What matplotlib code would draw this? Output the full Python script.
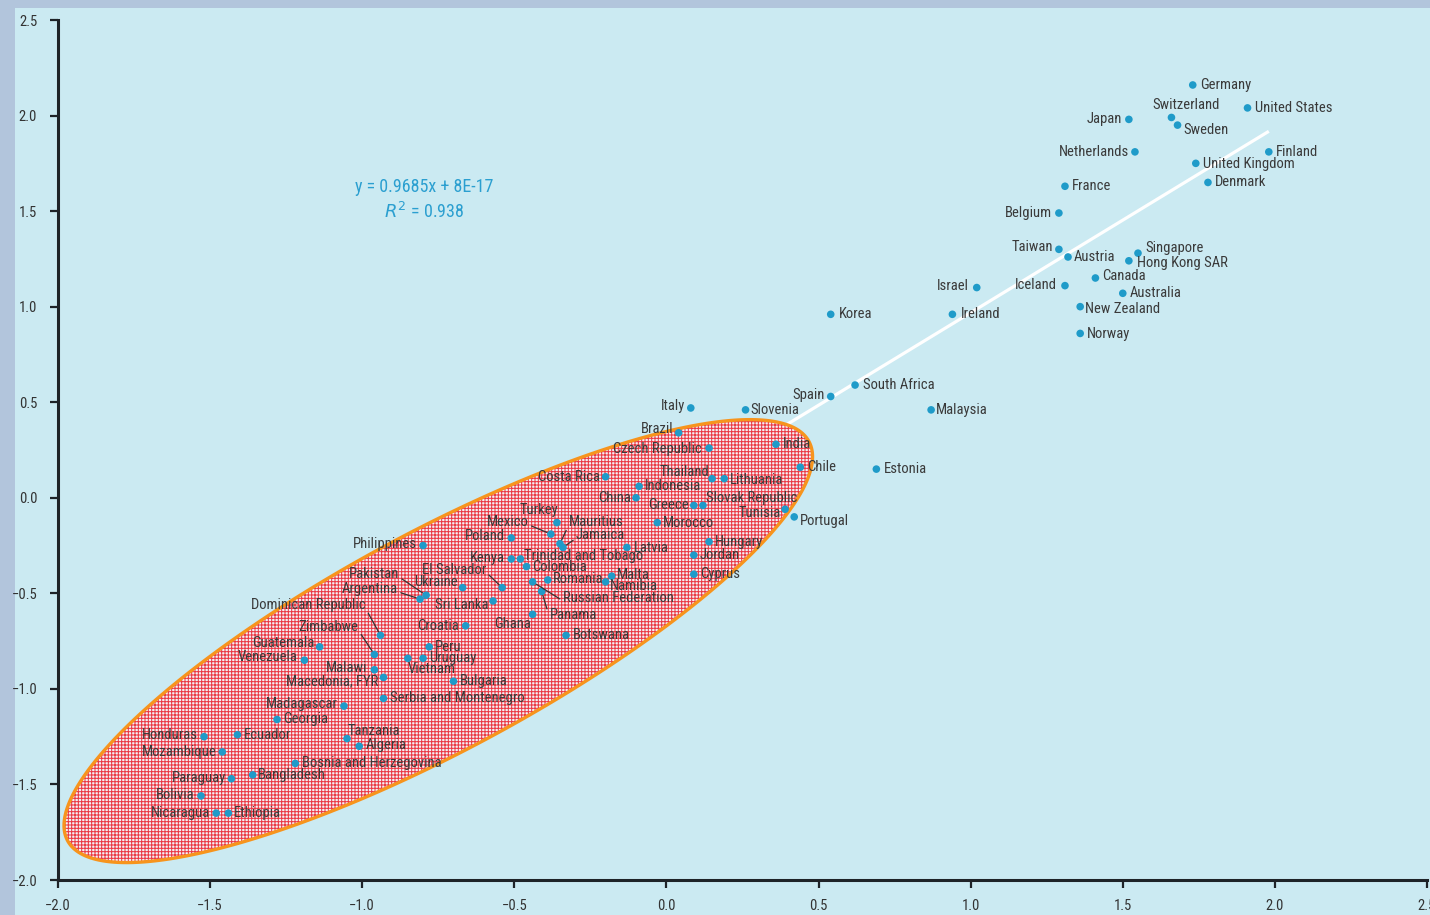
import numpy as np
import matplotlib
matplotlib.use("Agg")
import matplotlib.pyplot as plt
from matplotlib import font_manager
from matplotlib.patches import Polygon, Rectangle

# ---------------- data ----------------
countries = [
    "Germany", "United States", "Japan", "Switzerland", "Sweden", "Netherlands",
    "Finland", "United Kingdom", "Denmark", "France", "Belgium", "Taiwan",
    "Austria", "Singapore", "Hong Kong SAR", "Canada", "Iceland", "Australia",
    "New Zealand", "Norway", "Israel", "Korea", "Ireland", "South Africa",
    "Spain", "Malaysia", "Italy", "Slovenia", "Brazil", "Czech Republic",
    "India", "Chile", "Estonia", "Thailand", "Lithuania", "Indonesia",
    "Costa Rica", "China", "Greece", "Slovak Republic", "Tunisia", "Portugal",
    "Morocco", "Turkey", "Mexico", "Mauritius", "Jamaica", "Poland",
    "Philippines", "Latvia", "Hungary", "Jordan", "Cyprus", "Kenya",
    "Trinidad and Tobago", "Colombia", "El Salvador", "Ukraine", "Pakistan",
    "Argentina", "Sri Lanka", "Romania", "Malta", "Namibia",
    "Russian Federation", "Panama", "Ghana", "Croatia", "Botswana",
    "Dominican Republic", "Zimbabwe", "Guatemala", "Venezuela", "Malawi",
    "Macedonia, FYR", "Vietnam", "Uruguay", "Peru", "Bulgaria",
    "Serbia and Montenegro", "Madagascar", "Georgia", "Honduras", "Ecuador",
    "Tanzania", "Algeria", "Mozambique", "Bosnia and Herzegovina", "Paraguay",
    "Bangladesh", "Bolivia", "Nicaragua", "Ethiopia",
]
x_vals = [
    1.73, 1.91, 1.52, 1.66, 1.68, 1.54,
    1.98, 1.74, 1.78, 1.31, 1.29, 1.29,
    1.32, 1.55, 1.52, 1.41, 1.31, 1.50,
    1.36, 1.36, 1.02, 0.54, 0.94, 0.62,
    0.54, 0.87, 0.08, 0.26, 0.04, 0.14,
    0.36, 0.44, 0.69, 0.15, 0.19, -0.09,
    -0.20, -0.10, 0.09, 0.12, 0.39, 0.42,
    -0.03, -0.36, -0.38, -0.35, -0.34, -0.51,
    -0.80, -0.13, 0.14, 0.09, 0.09, -0.51,
    -0.48, -0.46, -0.54, -0.67, -0.79,
    -0.81, -0.57, -0.39, -0.18, -0.20,
    -0.44, -0.41, -0.44, -0.66, -0.33,
    -0.94, -0.96, -1.14, -1.19, -0.96,
    -0.93, -0.85, -0.80, -0.78, -0.70,
    -0.93, -1.06, -1.28, -1.52, -1.41,
    -1.05, -1.01, -1.46, -1.22, -1.43,
    -1.36, -1.53, -1.48, -1.44,
]
y_vals = [
    2.16, 2.04, 1.98, 1.99, 1.95, 1.81,
    1.81, 1.75, 1.65, 1.63, 1.49, 1.30,
    1.26, 1.28, 1.24, 1.15, 1.11, 1.07,
    1.00, 0.86, 1.10, 0.96, 0.96, 0.59,
    0.53, 0.46, 0.47, 0.46, 0.34, 0.26,
    0.28, 0.16, 0.15, 0.10, 0.10, 0.06,
    0.11, 0.00, -0.04, -0.04, -0.06, -0.10,
    -0.13, -0.13, -0.19, -0.24, -0.26, -0.21,
    -0.25, -0.26, -0.23, -0.30, -0.40, -0.32,
    -0.32, -0.36, -0.47, -0.47, -0.51,
    -0.53, -0.54, -0.43, -0.41, -0.44,
    -0.44, -0.49, -0.61, -0.67, -0.72,
    -0.72, -0.82, -0.78, -0.85, -0.90,
    -0.94, -0.84, -0.84, -0.78, -0.96,
    -1.05, -1.09, -1.16, -1.25, -1.24,
    -1.26, -1.30, -1.33, -1.39, -1.47,
    -1.45, -1.56, -1.65, -1.65,
]
slope = 0.9685
intercept = 8e-17
r_squared = 0.938
equation_text = "y = 0.9685x + 8E-17"
r2_text = r"$\mathit{R}^2$ = 0.938"
x_ticks = [-2.0, -1.5, -1.0, -0.5, 0.0, 0.5, 1.0, 1.5, 2.0, 2.5]
y_ticks = [-2.0, -1.5, -1.0, -0.5, 0.0, 0.5, 1.0, 1.5, 2.0, 2.5]

# ------------- label placement (pixel offsets, ha, leader) -------------
label_pos = {
    "Germany": (7, 0, "left", False), "United States": (7, 0, "left", False),
    "Japan": (-7, 0, "right", False), "Switzerland": (15, 12, "center", False),
    "Sweden": (6, -5, "left", False), "Netherlands": (-6, 0, "right", False),
    "Finland": (7, 0, "left", False), "United Kingdom": (7, -1, "left", False),
    "Denmark": (7, 0, "left", False), "France": (7, 0, "left", False),
    "Belgium": (-7, 0, "right", False), "Taiwan": (-6, 2, "right", False),
    "Austria": (6, 0, "left", False), "Singapore": (7, 5, "left", False),
    "Hong Kong SAR": (8, -2, "left", False), "Canada": (7, 2, "left", False),
    "Iceland": (-8, 1, "right", False), "Australia": (7, 0, "left", False),
    "New Zealand": (5, -2, "left", False), "Norway": (7, -1, "left", False),
    "Israel": (-8, 2, "right", False), "Korea": (8, 0, "left", False),
    "Ireland": (8, 0, "left", False), "South Africa": (8, 0, "left", False),
    "Spain": (-6, 1, "right", False), "Malaysia": (5, 0, "left", False),
    "Italy": (-6, 2, "right", False), "Slovenia": (5, 0, "left", False),
    "Brazil": (-5, 4, "right", False), "Czech Republic": (-7, -1, "right", False),
    "India": (7, 0, "left", False), "Chile": (7, 0, "left", False),
    "Estonia": (8, 0, "left", False), "Thailand": (-3, 7, "right", False),
    "Lithuania": (6, -1, "left", False), "Indonesia": (6, 0, "left", False),
    "Costa Rica": (-6, 0, "right", False), "China": (-5, 0, "right", False),
    "Greece": (-5, 0, "right", False), "Slovak Republic": (3, 7, "left", False),
    "Tunisia": (-4, -4, "right", False), "Portugal": (6, -4, "left", False),
    "Morocco": (6, 0, "left", False), "Turkey": (-18, 13, "center", False),
    "Mexico": (-22, 12, "right", True), "Mauritius": (9, 22, "left", True),
    "Jamaica": (13, 12, "left", True), "Poland": (-6, 2, "right", False),
    "Philippines": (-6, 2, "right", False), "Latvia": (7, -1, "left", False),
    "Hungary": (6, 0, "left", False), "Jordan": (6, 0, "left", False),
    "Cyprus": (6, 0, "left", False), "Kenya": (-6, 1, "right", False),
    "Trinidad and Tobago": (4, 3, "left", False), "Colombia": (6, 0, "left", False),
    "El Salvador": (-16, 18, "right", True), "Ukraine": (-5, 6, "right", False),
    "Pakistan": (-27, 21, "right", True), "Argentina": (-22, 10, "right", True),
    "Sri Lanka": (-5, -4, "right", False), "Romania": (5, 1, "left", False),
    "Malta": (5, 1, "left", False), "Namibia": (4, -4, "left", False),
    "Russian Federation": (30, -16, "left", True), "Panama": (8, -24, "left", True),
    "Ghana": (-2, -10, "right", False), "Croatia": (-7, 0, "right", False),
    "Botswana": (7, 0, "left", False), "Dominican Republic": (-15, 30, "right", True),
    "Zimbabwe": (-16, 27, "right", True), "Guatemala": (-5, 4, "right", False),
    "Venezuela": (-7, 3, "right", False), "Malawi": (-7, 2, "right", False),
    "Macedonia, FYR": (-5, -4, "right", False), "Vietnam": (0, -11, "left", False),
    "Uruguay": (6, 0, "left", False), "Peru": (6, 0, "left", False),
    "Bulgaria": (6, 0, "left", False), "Serbia and Montenegro": (6, 0, "left", False),
    "Madagascar": (-6, 2, "right", False), "Georgia": (6, 0, "left", False),
    "Honduras": (-6, 2, "right", False), "Ecuador": (6, 0, "left", False),
    "Tanzania": (1, 8, "left", False), "Algeria": (7, 1, "left", False),
    "Mozambique": (-6, 0, "right", False), "Bosnia and Herzegovina": (7, 0, "left", False),
    "Paraguay": (-5, 1, "right", False), "Bangladesh": (5, 0, "left", False),
    "Bolivia": (-6, 1, "right", False), "Nicaragua": (-6, 0, "right", False),
    "Ethiopia": (6, 0, "left", False),
}

# ---------------- fonts ----------------
available = {f.name for f in font_manager.fontManager.ttflist}
cond_font = "DejaVu Sans"
for cand in ["Liberation Sans Narrow", "Roboto Condensed", "Open Sans Condensed", "DejaVu Sans"]:
    if cand in available:
        cond_font = cand
        break
plt.rcParams["font.family"] = [cond_font, "DejaVu Sans"]
plt.rcParams["hatch.linewidth"] = 0.75

# ---------------- figure ----------------
W, H = 1430, 915
fig = plt.figure(figsize=(W / 100, H / 100), dpi=100, facecolor="#b2c5dc")
fig.patches.append(Rectangle((15 / W, 0), 1 - 15 / W, (H - 8) / H,
                             transform=fig.transFigure, facecolor="#cbeaf2",
                             edgecolor="none", zorder=-10))

ax_l, ax_r, ax_t, ax_b = 58, 1427, 20, 880
ax = fig.add_axes([ax_l / W, (H - ax_b) / H, (ax_r - ax_l) / W, (ax_b - ax_t) / H])
ax.set_zorder(5)
ax.set_facecolor("none")
ax.set_xlim(-2.0, 2.5)
ax.set_ylim(-2.0, 2.5)

# regression line
xs = np.array([min(x_vals), max(x_vals)])
ax.plot(xs, slope * xs + intercept, color="white", lw=2.3, zorder=1,
        solid_capstyle="butt")

# ellipse (shape defined in screen pixels, converted to data)
ppx = (ax_r - ax_l) / 4.5
ppy = (ax_b - ax_t) / 4.5
cx, cy = -0.75, -0.75
a_px, b_px, theta = 421, 109, np.deg2rad(28.3)
t = np.linspace(0, 2 * np.pi, 400)
ex = cx + (a_px * np.cos(t) * np.cos(theta) - b_px * np.sin(t) * np.sin(theta)) / ppx
ey = cy + (a_px * np.cos(t) * np.sin(theta) + b_px * np.sin(t) * np.cos(theta)) / ppy
pts = np.column_stack([ex, ey])
ax.add_patch(Polygon(pts, closed=True, facecolor=(1.0, 0.95, 0.96, 0.8),
                     edgecolor="#ea3a46", hatch="+++++", lw=0, zorder=2))
ax.add_patch(Polygon(pts, closed=True, facecolor="none",
                     edgecolor="#f7941d", lw=2.4, zorder=3))

# points
ax.scatter(x_vals, y_vals, s=30, color="#1f9bc9", edgecolors="none", zorder=5)

# labels
for name, xv, yv in zip(countries, x_vals, y_vals):
    dx, dy, ha, leader = label_pos[name]
    kw = {}
    if leader:
        kw["arrowprops"] = dict(arrowstyle="-", color="#333333", lw=0.9,
                                shrinkA=0, shrinkB=3,
                                relpos=(1.0, 0.3) if ha == "right" else (0.0, 0.3))
    ax.annotate(name, (xv, yv), xytext=(dx, dy), textcoords="offset pixels",
                ha=ha, va="center", fontsize=10.5, color="#3a3a3a", zorder=6, **kw)

# equation
ax.text(-0.795, 1.627, equation_text, ha="center", va="center", fontsize=13,
        color="#2b9fd0")
ax.text(-0.795, 1.497, r2_text, ha="center", va="center", fontsize=13,
        color="#2b9fd0")

# axes styling
for s in ["top", "right"]:
    ax.spines[s].set_visible(False)
for s in ["left", "bottom"]:
    ax.spines[s].set_linewidth(2.2)
    ax.spines[s].set_color("#1e2328")
ax.set_xticks(x_ticks)
ax.set_yticks(y_ticks)
ax.set_xticklabels([f"{v:.1f}".replace("-", "\u2212") for v in x_ticks])
ax.set_yticklabels([f"{v:.1f}".replace("-", "\u2212") for v in y_ticks])
ax.tick_params(axis="both", direction="out", length=6, width=1.6,
               color="#1e2328", labelsize=10.5, labelcolor="#333333")
ax.tick_params(axis="y", pad=9)
ax.tick_params(axis="x", pad=8)
for lab in ax.get_xticklabels() + ax.get_yticklabels():
    lab.set_clip_on(False)

fig.savefig("out.png", dpi=100, facecolor=fig.get_facecolor())
